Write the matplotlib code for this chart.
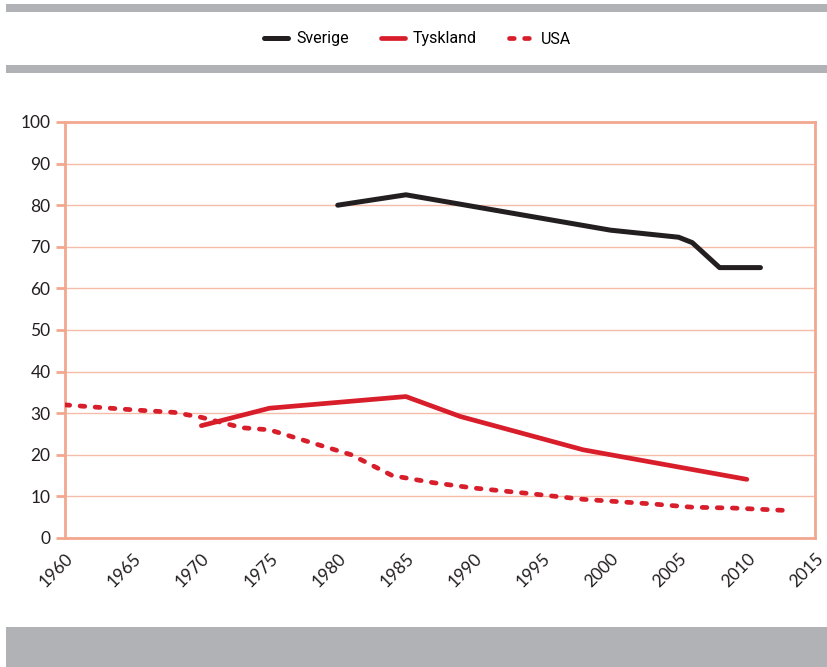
import matplotlib
matplotlib.use("Agg")
import matplotlib.pyplot as plt
from matplotlib.patches import Rectangle

# Data
years_sverige = [1980, 1985, 2000, 2005, 2006, 2008, 2011]
sverige = [80, 82.5, 74, 72.3, 71, 65, 65]

years_tyskland = [1970, 1975, 1985, 1989, 1998, 2010]
tyskland = [27, 31.2, 34, 29.2, 21.2, 14.1]

years_usa = [1960, 1965, 1968, 1970, 1973, 1975, 1978, 1981, 1984, 1987,
             1990, 1994, 1998, 2003, 2006, 2009, 2013]
usa = [32, 30.8, 30.2, 29, 26.5, 26, 23, 20, 15, 13.3,
       12, 10.7, 9.3, 8.2, 7.4, 7.2, 6.6]

x_ticks = list(range(1960, 2016, 5))
y_ticks = list(range(0, 101, 10))

BLACK = "#231f20"
RED = "#d81e2b"
SALMON = "#f2a88f"
GRID = "#f5bcaa"
GRAY = "#b1b2b5"

plt.rcParams['font.family'] = ['Lato', 'DejaVu Sans']

fig = plt.figure(figsize=(8.27, 6.67), dpi=100)

# grey bands
fig.add_artist(Rectangle((6/827, 1-11.7/667), 1, 7.7/667, transform=fig.transFigure,
                         color=GRAY, lw=0))
fig.add_artist(Rectangle((6/827, 1-72.7/667), 1, 7.7/667, transform=fig.transFigure,
                         color=GRAY, lw=0))
fig.add_artist(Rectangle((6/827, 0), 1, 40.5/667, transform=fig.transFigure,
                         color=GRAY, lw=0))

ax = fig.add_axes([65/827, 1-538/667, 750/827, 416/667])

ax.plot(years_sverige, sverige, color=BLACK, lw=3.6, solid_capstyle='round',
        solid_joinstyle='round', label="Sverige", zorder=3)
ax.plot(years_tyskland, tyskland, color=RED, lw=3.4, solid_capstyle='round',
        solid_joinstyle='round', label="Tyskland", zorder=3)
ax.plot(years_usa, usa, color=RED, lw=3.4, dashes=(1.0, 2.2),
        dash_capstyle='round', label="USA", zorder=3)

ax.set_xlim(1960, 2015)
ax.set_ylim(0, 100)
ax.set_yticks(y_ticks)
ax.set_xticks(x_ticks)
ax.set_xticklabels([str(t) for t in x_ticks], rotation=45, ha='right',
                   va='top', rotation_mode='anchor')

ax.tick_params(axis='y', length=6.5, width=2, color=SALMON, labelsize=12.5,
               labelcolor=BLACK, pad=4)
ax.tick_params(axis='x', length=0, labelsize=12.5, labelcolor=BLACK, pad=9)

for sp in ax.spines.values():
    sp.set_color(SALMON)
    sp.set_linewidth(2)

ax.grid(axis='y', color=GRID, lw=1)
ax.set_axisbelow(True)

fig.legend(loc='center', bbox_to_anchor=(0.505, 1-39/667), ncol=3, frameon=False,
           handlelength=1.5, handletextpad=0.5, columnspacing=2.0,
           prop={'family': ['Roboto', 'DejaVu Sans'], 'size': 11.5})

fig.savefig("out.png", dpi=100)
